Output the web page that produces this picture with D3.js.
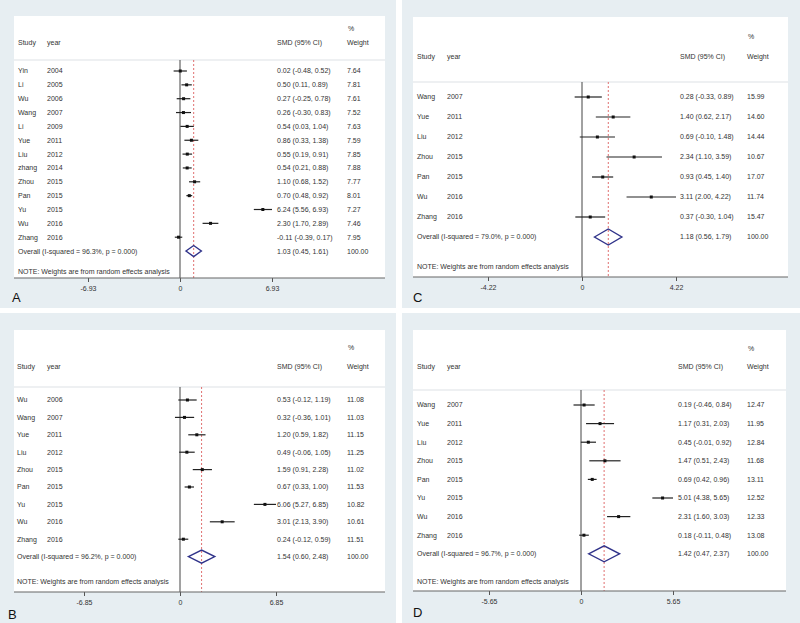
<!DOCTYPE html>
<html>
<head>
<meta charset="utf-8">
<script src="https://cdn.jsdelivr.net/npm/d3@7/dist/d3.min.js"></script>
<style>
html,body{margin:0;padding:0;background:#fff;}
svg{display:block;font-family:"Liberation Sans",Arial,sans-serif;}
</style>
</head>
<body>
<svg id="chart" width="800" height="623"></svg>
<script>
// ---------- Panel A ----------
const studyA = ["Yin","Li","Wu","Wang","Li","Yue","Liu","zhang","Zhou","Pan","Yu","Wu","Zhang"];
const yearA = ["2004","2005","2006","2007","2009","2011","2012","2014","2015","2015","2015","2016","2016"];
const smdA = [0.02,0.50,0.27,0.26,0.54,0.86,0.55,0.54,1.10,0.70,6.24,2.30,-0.11];
const lowA = [-0.48,0.11,-0.25,-0.30,0.03,0.33,0.19,0.21,0.68,0.48,5.56,1.70,-0.39];
const highA = [0.52,0.89,0.78,0.83,1.04,1.38,0.91,0.88,1.52,0.92,6.93,2.89,0.17];
const weightA = ["7.64","7.81","7.61","7.52","7.63","7.59","7.85","7.88","7.77","8.01","7.27","7.46","7.95"];
const overallA = [1.03,0.45,1.61];
const isqA = "96.3%";
const tickA = 6.93;

// ---------- Panel B ----------
const studyB = ["Wu","Wang","Yue","Liu","Zhou","Pan","Yu","Wu","Zhang"];
const yearB = ["2006","2007","2011","2012","2015","2015","2015","2016","2016"];
const smdB = [0.53,0.32,1.20,0.49,1.59,0.67,6.06,3.01,0.24];
const lowB = [-0.12,-0.36,0.59,-0.06,0.91,0.33,5.27,2.13,-0.12];
const highB = [1.19,1.01,1.82,1.05,2.28,1.00,6.85,3.90,0.59];
const weightB = ["11.08","11.03","11.15","11.25","11.02","11.53","10.82","10.61","11.51"];
const overallB = [1.54,0.60,2.48];
const isqB = "96.2%";
const tickB = 6.85;

// ---------- Panel C ----------
const studyC = ["Wang","Yue","Liu","Zhou","Pan","Wu","Zhang"];
const yearC = ["2007","2011","2012","2015","2015","2016","2016"];
const smdC = [0.28,1.40,0.69,2.34,0.93,3.11,0.37];
const lowC = [-0.33,0.62,-0.10,1.10,0.45,2.00,-0.30];
const highC = [0.89,2.17,1.48,3.59,1.40,4.22,1.04];
const weightC = ["15.99","14.60","14.44","10.67","17.07","11.74","15.47"];
const overallC = [1.18,0.56,1.79];
const isqC = "79.0%";
const tickC = 4.22;

// ---------- Panel D ----------
const studyD = ["Wang","Yue","Liu","Zhou","Pan","Yu","Wu","Zhang"];
const yearD = ["2007","2011","2012","2015","2015","2015","2016","2016"];
const smdD = [0.19,1.17,0.45,1.47,0.69,5.01,2.31,0.18];
const lowD = [-0.46,0.31,-0.01,0.51,0.42,4.38,1.60,-0.11];
const highD = [0.84,2.03,0.92,2.43,0.96,5.65,3.03,0.48];
const weightD = ["12.47","11.95","12.84","11.68","13.11","12.52","12.33","13.08"];
const overallD = [1.42,0.47,2.37];
const isqD = "96.7%";
const tickD = 5.65;

const f2 = d3.format(".2f");
const fmt = v => f2(v).replace("\u2212","-");
function ciText(e,l,h){ return fmt(e)+" ("+fmt(l)+", "+fmt(h)+")"; }

const svg = d3.select("#chart");

const panels = [
  {label:"A", study:studyA, year:yearA, smd:smdA, low:lowA, high:highA, weight:weightA, overall:overallA, isq:isqA, tick:tickA,
   bg:[0,0,396,308], white:[14,16,385,278], xr:[88,272], y0:71, dy:13.85, pctY:29, headY:43, lineY:60, noteY:272, tickY:288, letter:[12,297],
   cols:{study:18,year:47,smd:277,w:347}, dh:5.5},
  {label:"C", study:studyC, year:yearC, smd:smdC, low:lowC, high:highC, weight:weightC, overall:overallC, isq:isqC, tick:tickC,
   bg:[402,0,800,308], white:[413,17,788,277], xr:[488,676], y0:97, dy:20, pctY:37, headY:57, lineY:82, noteY:267, tickY:288, letter:[413,297],
   cols:{study:417,year:447,smd:680,w:747}, dh:8},
  {label:"B", study:studyB, year:yearB, smd:smdB, low:lowB, high:highB, weight:weightB, overall:overallB, isq:isqB, tick:tickB,
   bg:[0,313,396,623], white:[14,330,385,592], xr:[84,276], y0:400, dy:17.4, pctY:348, headY:367, lineY:387, noteY:582, tickY:602, letter:[8,614],
   cols:{study:17,year:47,smd:277,w:347}, dh:6.5},
  {label:"D", study:studyD, year:yearD, smd:smdD, low:lowD, high:highD, weight:weightD, overall:overallD, isq:isqD, tick:tickD,
   bg:[402,313,800,623], white:[413,330,786,591], xr:[489,673], y0:405, dy:18.6, pctY:349, headY:367, lineY:390, noteY:582, tickY:601, letter:[413,612],
   cols:{study:417,year:447,smd:678,w:747}, dh:8}
];

panels.forEach(p => {
  const g = svg.append("g");
  g.append("rect").attr("x",p.bg[0]).attr("y",p.bg[1]).attr("width",p.bg[2]-p.bg[0]).attr("height",p.bg[3]-p.bg[1]).attr("fill","#e7eef2");
  g.append("rect").attr("x",p.white[0]).attr("y",p.white[1]).attr("width",p.white[2]-p.white[0]).attr("height",p.white[3]-p.white[1]).attr("fill","#ffffff");

  const x = d3.scaleLinear().domain([-p.tick,p.tick]).range(p.xr);
  const n = p.study.length;
  const y = d3.scaleLinear().domain([0,1]).range([p.y0,p.y0+p.dy]);
  const txt = "#333";
  const fs = 7;

  // header
  g.append("text").attr("x",p.cols.w+1).attr("y",p.pctY).attr("dy","0.35em").attr("font-size",fs).attr("fill",txt).text("%");
  const hdr = [["Study",p.cols.study],["year",p.cols.year],["SMD (95% CI)",p.cols.smd],["Weight",p.cols.w]];
  hdr.forEach(h => g.append("text").attr("x",h[1]).attr("y",p.headY).attr("dy","0.35em").attr("font-size",fs).attr("fill",txt).text(h[0]));
  g.append("line").attr("x1",p.white[0]).attr("x2",p.white[2]).attr("y1",p.lineY).attr("y2",p.lineY).attr("stroke","#dde2e6").attr("stroke-width",1.2);

  // zero line & overall line
  g.append("line").attr("x1",x(0)).attr("x2",x(0)).attr("y1",p.lineY).attr("y2",p.white[3]).attr("stroke","#444").attr("stroke-width",1);
  g.append("line").attr("x1",x(p.overall[0])).attr("x2",x(p.overall[0])).attr("y1",p.lineY).attr("y2",p.white[3])
    .attr("stroke","#e07070").attr("stroke-width",1).attr("stroke-dasharray","2,2");

  // rows
  for (let i=0;i<n;i++){
    const yy = y(i);
    g.append("text").attr("x",p.cols.study).attr("y",yy).attr("dy","0.35em").attr("font-size",fs).attr("fill",txt).text(p.study[i]);
    g.append("text").attr("x",p.cols.year).attr("y",yy).attr("dy","0.35em").attr("font-size",fs).attr("fill",txt).text(p.year[i]);
    g.append("text").attr("x",p.cols.smd).attr("y",yy).attr("dy","0.35em").attr("font-size",fs).attr("fill",txt).text(ciText(p.smd[i],p.low[i],p.high[i]));
    g.append("text").attr("x",p.cols.w).attr("y",yy).attr("dy","0.35em").attr("font-size",fs).attr("fill",txt).text(p.weight[i]);
    g.append("line").attr("x1",x(p.low[i])).attr("x2",x(p.high[i])).attr("y1",yy).attr("y2",yy).attr("stroke","#222").attr("stroke-width",1.2);
    g.append("rect").attr("x",x(p.smd[i])-1.5).attr("y",yy-1.5).attr("width",3).attr("height",3).attr("fill","#111");
  }

  // overall
  const yo = y(n);
  g.append("text").attr("x",p.cols.study).attr("y",yo).attr("dy","0.35em").attr("font-size",fs).attr("fill",txt)
    .text("Overall  (I-squared = "+p.isq+", p = 0.000)");
  g.append("text").attr("x",p.cols.smd).attr("y",yo).attr("dy","0.35em").attr("font-size",fs).attr("fill",txt).text(ciText(p.overall[0],p.overall[1],p.overall[2]));
  g.append("text").attr("x",p.cols.w).attr("y",yo).attr("dy","0.35em").attr("font-size",fs).attr("fill",txt).text("100.00");
  const o = p.overall;
  g.append("polygon")
    .attr("points",[[x(o[1]),yo],[x(o[0]),yo-p.dh],[x(o[2]),yo],[x(o[0]),yo+p.dh]].map(d=>d.join(",")).join(" "))
    .attr("fill","none").attr("stroke","#30338a").attr("stroke-width",1.4);

  // note
  g.append("text").attr("x",p.cols.study).attr("y",p.noteY).attr("dy","0.35em").attr("font-size",fs).attr("fill",txt)
    .text("NOTE: Weights are from random effects analysis");

  // axis
  const ax = g.append("g").attr("transform","translate(0,"+p.white[3]+")")
    .call(d3.axisBottom(x).tickValues([-p.tick,0,p.tick]).tickSize(4).tickFormat(d => d===0 ? "0" : fmt(d)));
  ax.select(".domain").remove();
  ax.selectAll(".tick line").attr("stroke","#555");
  ax.selectAll(".tick text").attr("font-size",fs).attr("fill",txt).attr("font-family","Liberation Sans, Arial, sans-serif").attr("dy","0.9em");
  g.append("line").attr("x1",p.white[0]).attr("x2",p.white[2]).attr("y1",p.white[3]).attr("y2",p.white[3]).attr("stroke","#666").attr("stroke-width",1.2);

  // letter
  g.append("text").attr("x",p.letter[0]).attr("y",p.letter[1]).attr("dy","0.35em").attr("font-size",13).attr("fill","#111").text(p.label);
});
</script>
</body>
</html>
